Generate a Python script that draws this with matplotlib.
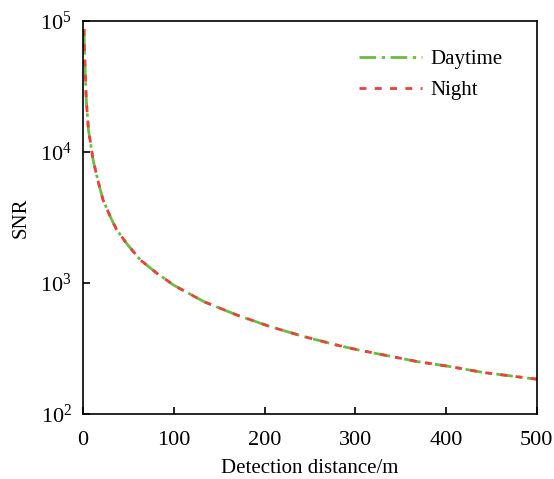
import numpy as np
import matplotlib
matplotlib.use("Agg")
import matplotlib.pyplot as plt
from matplotlib.ticker import LogLocator, NullLocator

plt.rcParams['font.family'] = ['Liberation Serif', 'DejaVu Serif']
plt.rcParams['mathtext.fontset'] = 'stix'

distance = [1, 2, 3.5, 6, 8, 11, 17, 22, 30, 37, 48, 63, 81, 100, 133, 169,
            206, 243, 279, 303, 331, 368, 404, 441, 500]
snr_day = [87000, 47000, 25000, 14500, 12000, 8700, 5800, 4300, 3200, 2550, 2000,
           1500, 1190, 960, 720, 570, 464, 390, 336, 308, 282, 251, 230, 207, 184]
snr_night = [87000, 47000, 25000, 14500, 12000, 8700, 5800, 4300, 3200, 2550, 2000,
             1500, 1190, 960, 720, 570, 464, 390, 336, 308, 282, 251, 230, 207, 184]

fig = plt.figure(figsize=(5.54, 4.79), dpi=100)
ax = fig.add_axes([0.150, 0.136, 0.819, 0.820])

ax.plot(distance, snr_day, color="#6cbb45", lw=2, linestyle=(0, (6, 2, 1.2, 2)), label="Daytime")
ax.plot(distance, snr_night, color="#e8423a", lw=2, linestyle=(0, (2.5, 3)), label="Night")

ax.set_yscale("log")
ax.set_xlim(0, 500)
ax.set_ylim(1e2, 1e5)
ax.set_xticks([0, 100, 200, 300, 400, 500])
ax.yaxis.set_major_locator(LogLocator(base=10, numticks=10))
ax.yaxis.set_minor_locator(NullLocator())
ax.tick_params(direction="in", labelsize=16, length=5, width=1.2)
ax.tick_params(axis="x", pad=12)
ax.tick_params(axis="y", pad=8)
for s in ax.spines.values():
    s.set_linewidth(1.2)

ax.set_xlabel("Detection distance/m", fontsize=15, labelpad=7)
ax.set_ylabel("SNR", fontsize=15, labelpad=7)
ax.legend(loc="upper right", frameon=False, fontsize=15, handlelength=3.0,
          handletextpad=0.4, labelspacing=0.55, bbox_to_anchor=(0.965, 0.975))

fig.savefig("out.png", dpi=100)
